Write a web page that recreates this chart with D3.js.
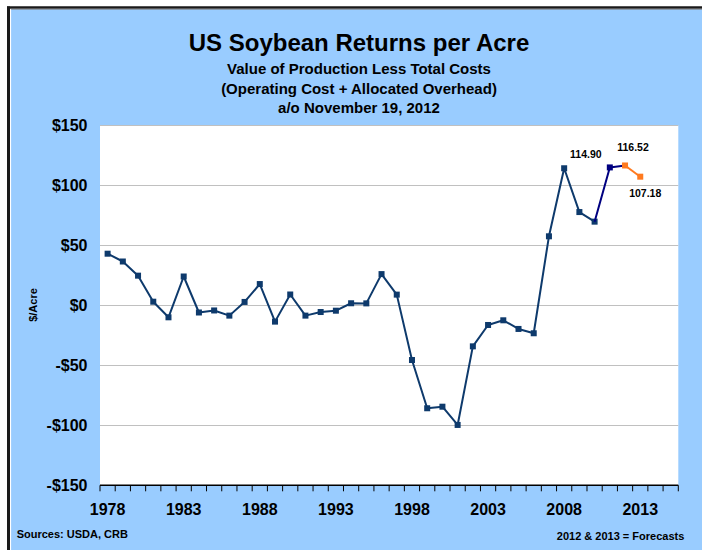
<!DOCTYPE html>
<html>
<head>
<meta charset="utf-8">
<script src="https://cdn.jsdelivr.net/npm/d3@7"></script>
<style>
  html, body { margin: 0; padding: 0; background: #ffffff; }
  svg { display: block; }
  text { font-family: "Liberation Sans", Arial, Helvetica, sans-serif; font-weight: bold; fill: #000; }
</style>
</head>
<body>
<svg id="chart" width="702" height="550"></svg>
<script>
// ---------------- DATA ----------------
const years = [1978,1979,1980,1981,1982,1983,1984,1985,1986,1987,1988,1989,1990,1991,1992,1993,1994,1995,1996,1997,1998,1999,2000,2001,2002,2003,2004,2005,2006,2007,2008,2009,2010,2011,2012,2013];
const returns = [43,36.5,24.7,3,-10,24,-6,-4.3,-8.6,2.8,17.7,-13.6,9,-8.6,-5.6,-4.5,1.7,1.6,26,8.9,-45.6,-85.8,-84.5,-99.7,-34.2,-16.4,-12.5,-19.7,-23.3,57.5,114.2,77.7,69.7,114.90,116.52,107.18];
// x-axis categories (one band per year) and labelled years
const axisYears = d3.range(1978, 2016);
const xTickLabels = ["1978","1983","1988","1993","1998","2003","2008","2013"];
const yTickValues = [-150,-100,-50,0,50,100,150];
// series segments (year ranges)
const historicRange = [1978, 2010];
const latestRange = [2010, 2012];
const forecastRange = [2012, 2013];
const latestMarkerYears = [2011];
const forecastMarkerYears = [2012, 2013];
// value labels
const labelYears = [2011, 2012, 2013];
const labelTexts = ["114.90", "116.52", "107.18"];

const titleText = "US Soybean Returns per Acre";
const subtitleLines = ["Value of Production Less Total Costs", "(Operating Cost + Allocated Overhead)", "a/o November 19, 2012"];

// ---------------- CHART ----------------
const svg = d3.select("#chart");
const W = 702, H = 550;

// background panel
svg.append("rect").attr("x", 11).attr("y", 9).attr("width", W - 11).attr("height", H - 9).attr("fill", "#99CCFF");
// border (top & left)
svg.append("line").attr("x1", 7).attr("x2", W).attr("y1", 7.5).attr("y2", 7.5).attr("stroke", "#1a1a1a").attr("stroke-width", 2.5);
svg.append("line").attr("x1", 8.5).attr("x2", 8.5).attr("y1", 6.5).attr("y2", H).attr("stroke", "#1a1a1a").attr("stroke-width", 3);
svg.append("line").attr("x1", 10).attr("x2", W).attr("y1", 9.3).attr("y2", 9.3).attr("stroke", "#808080").attr("stroke-width", 0.8);
svg.append("line").attr("x1", 10.6).attr("x2", 10.6).attr("y1", 9).attr("y2", H).attr("stroke", "#ffffff").attr("stroke-width", 1);

const plotL = 100, plotR = 678.3, plotT = 125.3, plotB = 485.3;

const x = d3.scaleBand().domain(axisYears).range([plotL, plotR]).padding(0);
const y = d3.scaleLinear().domain([-150, 150]).range([plotB, plotT]);
const cx = yr => x(yr) + x.bandwidth() / 2;

// plot area
svg.append("rect").attr("x", plotL).attr("y", plotT).attr("width", plotR - plotL).attr("height", plotB - plotT).attr("fill", "#ffffff");

// gridlines
svg.append("g").selectAll("line").data(yTickValues.filter(v => v !== -150)).join("line")
  .attr("x1", plotL).attr("x2", plotR)
  .attr("y1", d => Math.round(y(d)) + 0.5).attr("y2", d => Math.round(y(d)) + 0.5)
  .attr("stroke", "#C0C0C0").attr("stroke-width", 1);

// y axis labels
const fmt = v => (v < 0 ? "-$" : "$") + Math.abs(v);
const yAxis = svg.append("g").attr("transform", `translate(${plotL},0)`)
  .call(d3.axisLeft(y).tickValues(yTickValues).tickFormat(fmt).tickSize(0).tickPadding(12.5));
yAxis.select(".domain").remove();
yAxis.selectAll("text").style("font-size", "16px").style("font-family", "'Liberation Sans', Arial, sans-serif").style("font-weight", "bold").attr("fill", "#000").attr("dy", "0.34em");

// x axis: line + boundary ticks
const xg = svg.append("g");
xg.append("line").attr("x1", plotL).attr("x2", plotR).attr("y1", plotB).attr("y2", plotB).attr("stroke", "#000").attr("stroke-width", 1.5);
const boundaries = axisYears.map(yr => x(yr)).concat([plotR]);
xg.selectAll("line.tk").data(boundaries).join("line").attr("class", "tk")
  .attr("x1", d => d).attr("x2", d => d).attr("y1", plotB).attr("y2", plotB + 6)
  .attr("stroke", "#000").attr("stroke-width", 1);
const xAxis = svg.append("g").attr("transform", `translate(0,${plotB})`)
  .call(d3.axisBottom(x).tickValues(xTickLabels.map(Number)).tickSize(0).tickPadding(0));
xAxis.select(".domain").remove();
xAxis.selectAll("text").style("font-size", "16px").style("font-family", "'Liberation Sans', Arial, sans-serif").style("font-weight", "bold").attr("fill", "#000").attr("y", 29.7).attr("dy", "0");

// series
const pts = years.map((yr, i) => ({ yr, v: returns[i] }));
const inRange = r => pts.filter(p => p.yr >= r[0] && p.yr <= r[1]);
const line = d3.line().x(p => cx(p.yr)).y(p => y(p.v));

function drawSeries(data, color, markerYears) {
  svg.append("path").datum(data).attr("d", line).attr("fill", "none").attr("stroke", color).attr("stroke-width", 2).attr("stroke-linejoin", "round");
  const m = data.filter(p => markerYears === null || markerYears.includes(p.yr));
  svg.append("g").selectAll("rect").data(m).join("rect")
    .attr("x", p => cx(p.yr) - 3).attr("y", p => y(p.v) - 3).attr("width", 6).attr("height", 6)
    .attr("fill", color);
}
drawSeries(inRange(historicRange), "#0E3A6C", null);
drawSeries(inRange(latestRange), "#000080", latestMarkerYears);
drawSeries(inRange(forecastRange), "#FF7A1F", forecastMarkerYears);

// value labels
const labelOffsets = [[-24, -9], [8, -14], [5, 20]];
svg.append("g").selectAll("text").data(labelYears).join("text")
  .attr("x", (yr, i) => cx(yr) + labelOffsets[i][0])
  .attr("y", (yr, i) => y(pts.find(p => p.yr === yr).v) + labelOffsets[i][1])
  .attr("text-anchor", "middle").style("font-size", "10.5px")
  .text((yr, i) => labelTexts[i]);

// titles
svg.append("text").attr("x", 359).attr("y", 50.7).attr("text-anchor", "middle").style("font-size", "24px").text(titleText);
svg.append("g").selectAll("text").data(subtitleLines).join("text")
  .attr("x", 359).attr("y", (d, i) => 74.3 + i * 19.2).attr("text-anchor", "middle").style("font-size", "15px").text(d => d);

// y axis title
svg.append("text").attr("transform", "translate(36.5,305) rotate(-90)").attr("text-anchor", "middle").style("font-size", "11px").text("$/Acre");

// footers
svg.append("text").attr("x", 16.7).attr("y", 538.3).style("font-size", "11px").text("Sources: USDA, CRB");
svg.append("text").attr("x", 684.3).attr("y", 539.5).attr("text-anchor", "end").style("font-size", "11px").text("2012 & 2013 = Forecasts");
</script>
</body>
</html>
